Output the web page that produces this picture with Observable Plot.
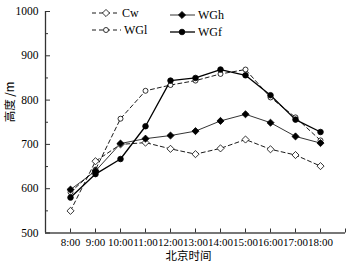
<!DOCTYPE html>
<html>
<head>
<meta charset="utf-8">
<script src="https://cdn.jsdelivr.net/npm/d3@7"></script>
<script src="https://cdn.jsdelivr.net/npm/@observablehq/plot@0.6"></script>
<style>
  html, body { margin: 0; padding: 0; background: #fff; }
  #wrap { position: relative; width: 356px; height: 271px; font-family: "Liberation Serif", "Times New Roman", serif; }
  .leg { position: absolute; font-size: 12px; line-height: 12px; color: #000; display: flex; align-items: center; white-space: nowrap; font-family: "Liberation Serif", serif; }
  .leg svg { display: block; margin-right: 3px; }
</style>
</head>
<body>
<div id="wrap"></div>
<script>
const hours = [8, 9, 10, 11, 12, 13, 14, 15, 16, 17, 18];
const hourLabels = ["8:00", "9:00", "10:00", "11:00", "12:00", "13:00", "14:00", "15:00", "16:00", "17:00", "18:00"];
const Cw  = [550, 662, 700, 704, 690, 678, 691, 711, 689, 676, 651];
const WGl = [592, 643, 758, 821, 834, 844, 859, 869, 806, 761, 709];
const WGh = [598, 640, 702, 713, 720, 730, 753, 768, 749, 718, 703];
const WGf = [580, 633, 667, 741, 844, 850, 869, 856, 811, 756, 728];
const yMajor = [500, 600, 700, 800, 900, 1000];
const yMinor = [550, 650, 750, 850, 950];
const xTickMarks = [8, 9, 10, 11, 12, 13, 14, 15, 16, 17, 18, 19];

const series = [
  {name: "Cw",  values: Cw,  dash: "4,3", width: 0.9, symbol: "diamond2", fill: "white", r: 3.2},
  {name: "WGl", values: WGl, dash: "4,3", width: 0.9, symbol: "circle",   fill: "white", r: 2.5},
  {name: "WGh", values: WGh, dash: null,  width: 0.8, symbol: "diamond2", fill: "black", r: 3.2},
  {name: "WGf", values: WGf, dash: null,  width: 1.3, symbol: "circle",   fill: "black", r: 2.8}
];

const rows = series.map(s => s.values.map((v, i) => ({series: s.name, hour: hours[i], value: v})));
const serif = "Liberation Serif, Times New Roman, serif";
const cjk = "Noto Sans CJK SC, sans-serif";

const marks = [];
marks.push(Plot.ruleY([500], {stroke: "#777", strokeWidth: 2}));
marks.push(Plot.ruleX([7], {stroke: "#333", strokeWidth: 1.3}));
marks.push(Plot.axisY(yMajor, {tickSize: -5, tickFormat: () => "", label: null, stroke: "#333"}));
marks.push(Plot.axisY(yMinor, {tickSize: -3, tickFormat: () => "", label: null, stroke: "#333"}));
marks.push(Plot.axisY(yMajor, {tickSize: 0, tickPadding: 7, label: null, fontSize: 11.5, fontFamily: serif, tickFormat: d => String(d)}));
marks.push(Plot.axisX(xTickMarks, {tickSize: -4, tickFormat: () => "", label: null, stroke: "#333"}));
marks.push(Plot.axisX(hours, {tickSize: 0, tickPadding: 5, label: null, fontSize: 11, fontFamily: serif, tickFormat: (d) => hourLabels[hours.indexOf(d)]}));
marks.push(Plot.text(["北京时间"], {frameAnchor: "bottom", dy: 27, dx: -7, fontSize: 11.5, fontFamily: cjk}));
marks.push(Plot.text(["高度 /m"], {frameAnchor: "left", dx: -35, rotate: -90, fontSize: 11.5, fontFamily: cjk}));

series.forEach((s, k) => {
  marks.push(Plot.line(rows[k], {x: "hour", y: "value", stroke: "black", strokeWidth: s.width, strokeDasharray: s.dash}));
});
series.forEach((s, k) => {
  marks.push(Plot.dot(rows[k], {x: "hour", y: "value", symbol: s.symbol, r: s.r, stroke: "black", strokeWidth: 0.8, fill: s.fill}));
});

const chart = Plot.plot({
  width: 356,
  height: 271,
  marginLeft: 45,
  marginRight: 11,
  marginTop: 11,
  marginBottom: 38.5,
  style: {background: "white", color: "black"},
  x: {domain: [7, 19], axis: null},
  y: {domain: [500, 1000], axis: null},
  marks
});
const wrap = document.getElementById("wrap");
wrap.appendChild(chart);
// force fonts inline on every text element
chart.querySelectorAll("text").forEach(t => {
  if (/[\u4e00-\u9fff]/.test(t.textContent)) t.style.fontFamily = '"Noto Sans CJK SC", sans-serif';
  else t.style.fontFamily = '"Liberation Serif", "Times New Roman", serif';
});

function legendItem(s, left, top, lineLen, markerAt) {
  const div = document.createElement("div");
  div.className = "leg";
  div.style.left = left + "px";
  div.style.top = top + "px";
  const ns = "http://www.w3.org/2000/svg";
  const svg = document.createElementNS(ns, "svg");
  svg.setAttribute("width", lineLen);
  svg.setAttribute("height", 10);
  const ln = document.createElementNS(ns, "line");
  ln.setAttribute("x1", 0); ln.setAttribute("x2", lineLen);
  ln.setAttribute("y1", 5); ln.setAttribute("y2", 5);
  ln.setAttribute("stroke", "black");
  ln.setAttribute("stroke-width", s.width);
  if (s.dash) ln.setAttribute("stroke-dasharray", s.dash);
  svg.appendChild(ln);
  const sym = s.symbol === "circle" ? d3.symbolCircle : d3.symbolDiamond2;
  const p = document.createElementNS(ns, "path");
  p.setAttribute("d", d3.symbol(sym, Math.PI * s.r * s.r)());
  p.setAttribute("transform", `translate(${markerAt},5)`);
  p.setAttribute("fill", s.fill);
  p.setAttribute("stroke", "black");
  p.setAttribute("stroke-width", 0.8);
  svg.appendChild(p);
  div.appendChild(svg);
  const t = document.createElement("span");
  t.textContent = s.name;
  div.appendChild(t);
  wrap.appendChild(div);
}
legendItem(series[0], 92, 7, 27, 14);
legendItem(series[1], 92, 24, 29, 14);
legendItem(series[2], 170, 9, 25, 12);
legendItem(series[3], 170, 26, 25, 12);
</script>
</body>
</html>
